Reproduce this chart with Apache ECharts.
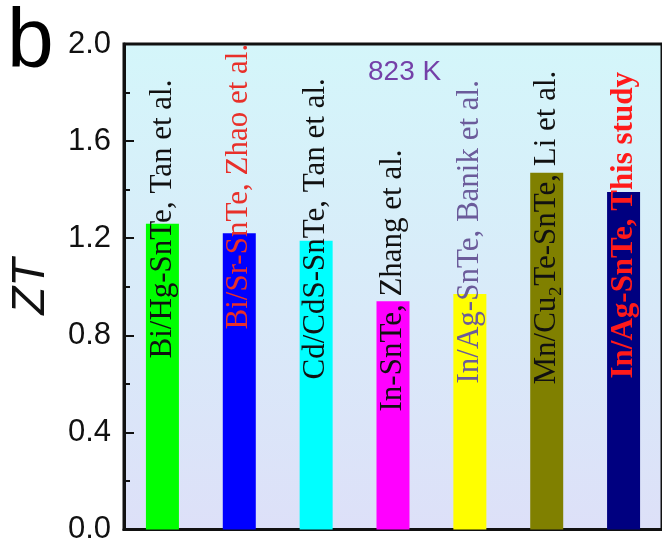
<!DOCTYPE html>
<html>
<head>
<meta charset="utf-8">
<script src="https://cdn.jsdelivr.net/npm/echarts@6/dist/echarts.min.js"></script>
<style>
  html, body { margin: 0; padding: 0; background: #ffffff; }
  #chart { width: 662px; height: 545px; }
</style>
</head>
<body>
<div id="chart"></div>
<script>
// ZT of doped SnTe samples at 823 K
const systems = ['Bi/Hg-SnTe', 'Bi/Sr-SnTe', 'Cd/CdS-SnTe', 'In-SnTe', 'In/Ag-SnTe', 'Mn/Cu₂Te-SnTe', 'In/Ag-SnTe'];
const sources = ['Tan et al.', 'Zhao et al.', 'Tan et al.', 'Zhang et al.', 'Banik et al.', 'Li et al.', 'This study'];
const ztValues = [1.26, 1.22, 1.19, 0.94, 0.97, 1.47, 1.39];
const yTicks = [0.0, 0.4, 0.8, 1.2, 1.6, 2.0];

// Styling per bar
const barColors = ['#00ff00', '#0000ff', '#00ffff', '#ff00ff', '#ffff00', '#808000', '#000080'];
const textColors = ['#111111', '#e8302a', '#111111', '#111111', '#6b5b9a', '#111111', '#ff1a1a'];
const textWeights = ['normal', 'normal', 'normal', 'normal', 'normal', 'normal', 'bold'];
const textLift = [167, 196, 146, 114, 142, 141, 147]; // px above the baseline where each annotation starts

const chart = echarts.init(document.getElementById('chart'), null, { renderer: 'canvas' });

const barData = ztValues.map((v, i) => ({
  value: v,
  itemStyle: { color: barColors[i] },
  label: {
    formatter: systems[i] + ', ' + sources[i],
    color: textColors[i],
    fontWeight: textWeights[i],
    distance: textLift[i]
  }
}));

chart.setOption({
  animation: false,
  backgroundColor: '#ffffff',
  grid: {
    left: 123, right: -8, top: 44, bottom: 10,
    show: true,
    borderColor: '#111111',
    borderWidth: 3,
    backgroundColor: new echarts.graphic.LinearGradient(0, 0, 0, 1, [
      { offset: 0, color: '#d4f6fa' },
      { offset: 1, color: '#dde0f8' }
    ])
  },
  xAxis: {
    type: 'category',
    data: systems.map((s, i) => s + '|' + i),
    axisLine: { lineStyle: { color: '#111111', width: 3 } },
    axisTick: { show: false },
    axisLabel: { show: false }
  },
  yAxis: {
    type: 'value',
    min: yTicks[0],
    max: yTicks[yTicks.length - 1],
    interval: 0.4,
    name: 'ZT',
    nameLocation: 'middle',
    nameGap: 70,
    nameRotate: 90,
    nameTextStyle: { fontSize: 46, fontStyle: 'italic', color: '#111111', fontFamily: 'Liberation Sans, Arial, sans-serif' },
    axisLine: { show: true, lineStyle: { color: '#111111', width: 3 } },
    axisTick: { show: true, inside: true, length: 10, lineStyle: { color: '#111111', width: 2 } },
    minorTick: { show: true, splitNumber: 2, length: 6, lineStyle: { color: '#111111', width: 2 } },
    splitLine: { show: false },
    axisLabel: {
      margin: 13,
      fontSize: 31,
      color: '#111111',
      fontFamily: 'Liberation Sans, Arial, sans-serif',
      formatter: v => v.toFixed(1)
    }
  },
  series: [{
    type: 'bar',
    data: barData,
    barWidth: 33,
    label: {
      show: true,
      position: 'insideBottom',
      rotate: 90,
      align: 'left',
      verticalAlign: 'middle',
      offset: [4, 0],
      fontSize: 31,
      fontFamily: 'Liberation Serif, Times New Roman, serif'
    }
  }],
  graphic: [
    {
      type: 'text', left: 368, top: 58,
      style: { text: '823 K', fontSize: 28, fill: '#7440a8', fontFamily: 'Liberation Sans, Arial, sans-serif' }
    },
    {
      type: 'text', left: 7, top: 2,
      style: { text: 'b', fontSize: 84, fill: '#000000', fontFamily: 'Liberation Sans, Arial, sans-serif' }
    }
  ]
});
</script>
</body>
</html>
